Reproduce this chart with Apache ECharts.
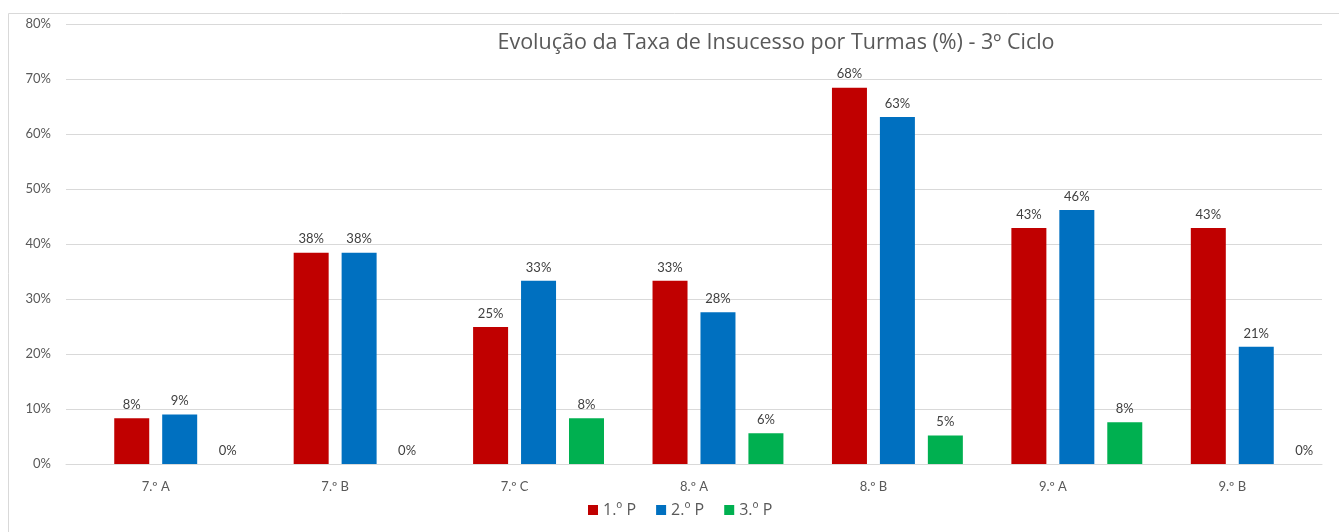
<!DOCTYPE html>
<html>
<head>
<meta charset="utf-8">
<script src="https://cdn.jsdelivr.net/npm/echarts@6/dist/echarts.min.js"></script>
<style>
  html, body { margin: 0; padding: 0; background: #fff; }
  #main { width: 1339px; height: 532px; }
</style>
</head>
<body>
<div id="main"></div>
<script>
  let turmas = ['7.º A', '7.º B', '7.º C', '8.º A', '8.º B', '9.º A', '9.º B'];
  let periodo1 = [8.3, 38.4, 24.9, 33.3, 68.4, 42.9, 42.9];
  let periodo2 = [9.0, 38.4, 33.3, 27.6, 63.1, 46.2, 21.3];
  let periodo3 = [0, 0, 8.3, 5.6, 5.2, 7.6, 0];
  let vazio = [null, null, null, null, null, null, null];
  let yTicks = [0, 10, 20, 30, 40, 50, 60, 70, 80];

  let fontName = 'Lato';
  let labelColor = '#404040';

  function barSerie(name, data, color) {
    return {
      name: name,
      type: 'bar',
      data: data,
      barWidth: 35,
      barGap: '37%',
      itemStyle: { color: color },
      label: {
        show: true,
        position: 'top',
        distance: 7,
        color: labelColor,
        fontFamily: fontName,
        fontSize: 13,
        formatter: function (p) { return Math.round(p.value) + '%'; }
      }
    };
  }

  let myChart = echarts.init(document.getElementById('main'));
  let option = {
    animation: false,
    textStyle: { fontFamily: fontName },
    graphic: [{
      type: 'rect',
      shape: { x: 8.5, y: 13.5, width: 1340, height: 530 },
      style: { fill: 'none', stroke: '#d9d9d9', lineWidth: 1 },
      silent: true
    }],
    title: {
      text: 'Evolução da Taxa de Insucesso por Turmas (%) - 3º Ciclo',
      left: 771,
      top: 27,
      textAlign: 'center',
      textStyle: { color: '#595959', fontSize: 21.5, fontWeight: 'normal', fontFamily: 'Open Sans' }
    },
    legend: {
      data: ['1.º P', '2.º P', '3.º P'],
      bottom: 9,
      left: 583,
      itemWidth: 10,
      itemHeight: 10,
      itemGap: 20,
      icon: 'rect',
      textStyle: { color: '#595959', fontSize: 16, fontFamily: 'Open Sans' }
    },
    grid: { left: 66, right: 17, top: 24, bottom: 68, containLabel: false },
    xAxis: {
      type: 'category',
      data: turmas,
      axisLine: { lineStyle: { color: '#d9d9d9' } },
      axisTick: { show: false },
      axisLabel: { color: '#595959', fontSize: 13, margin: 16, fontFamily: fontName }
    },
    yAxis: {
      type: 'value',
      min: yTicks[0],
      max: yTicks[yTicks.length - 1],
      interval: 10,
      axisLine: { show: false },
      axisTick: { show: false },
      splitLine: { lineStyle: { color: '#d9d9d9' } },
      axisLabel: { color: '#595959', fontSize: 13, margin: 15, fontFamily: fontName, formatter: '{value}%' }
    },
    series: [
      { name: '', type: 'bar', data: vazio, barWidth: 35, barGap: '37%', silent: true },
      barSerie('1.º P', periodo1, '#C00000'),
      barSerie('2.º P', periodo2, '#0070C0'),
      barSerie('3.º P', periodo3, '#00B050')
    ]
  };
  myChart.setOption(option);
</script>
</body>
</html>
